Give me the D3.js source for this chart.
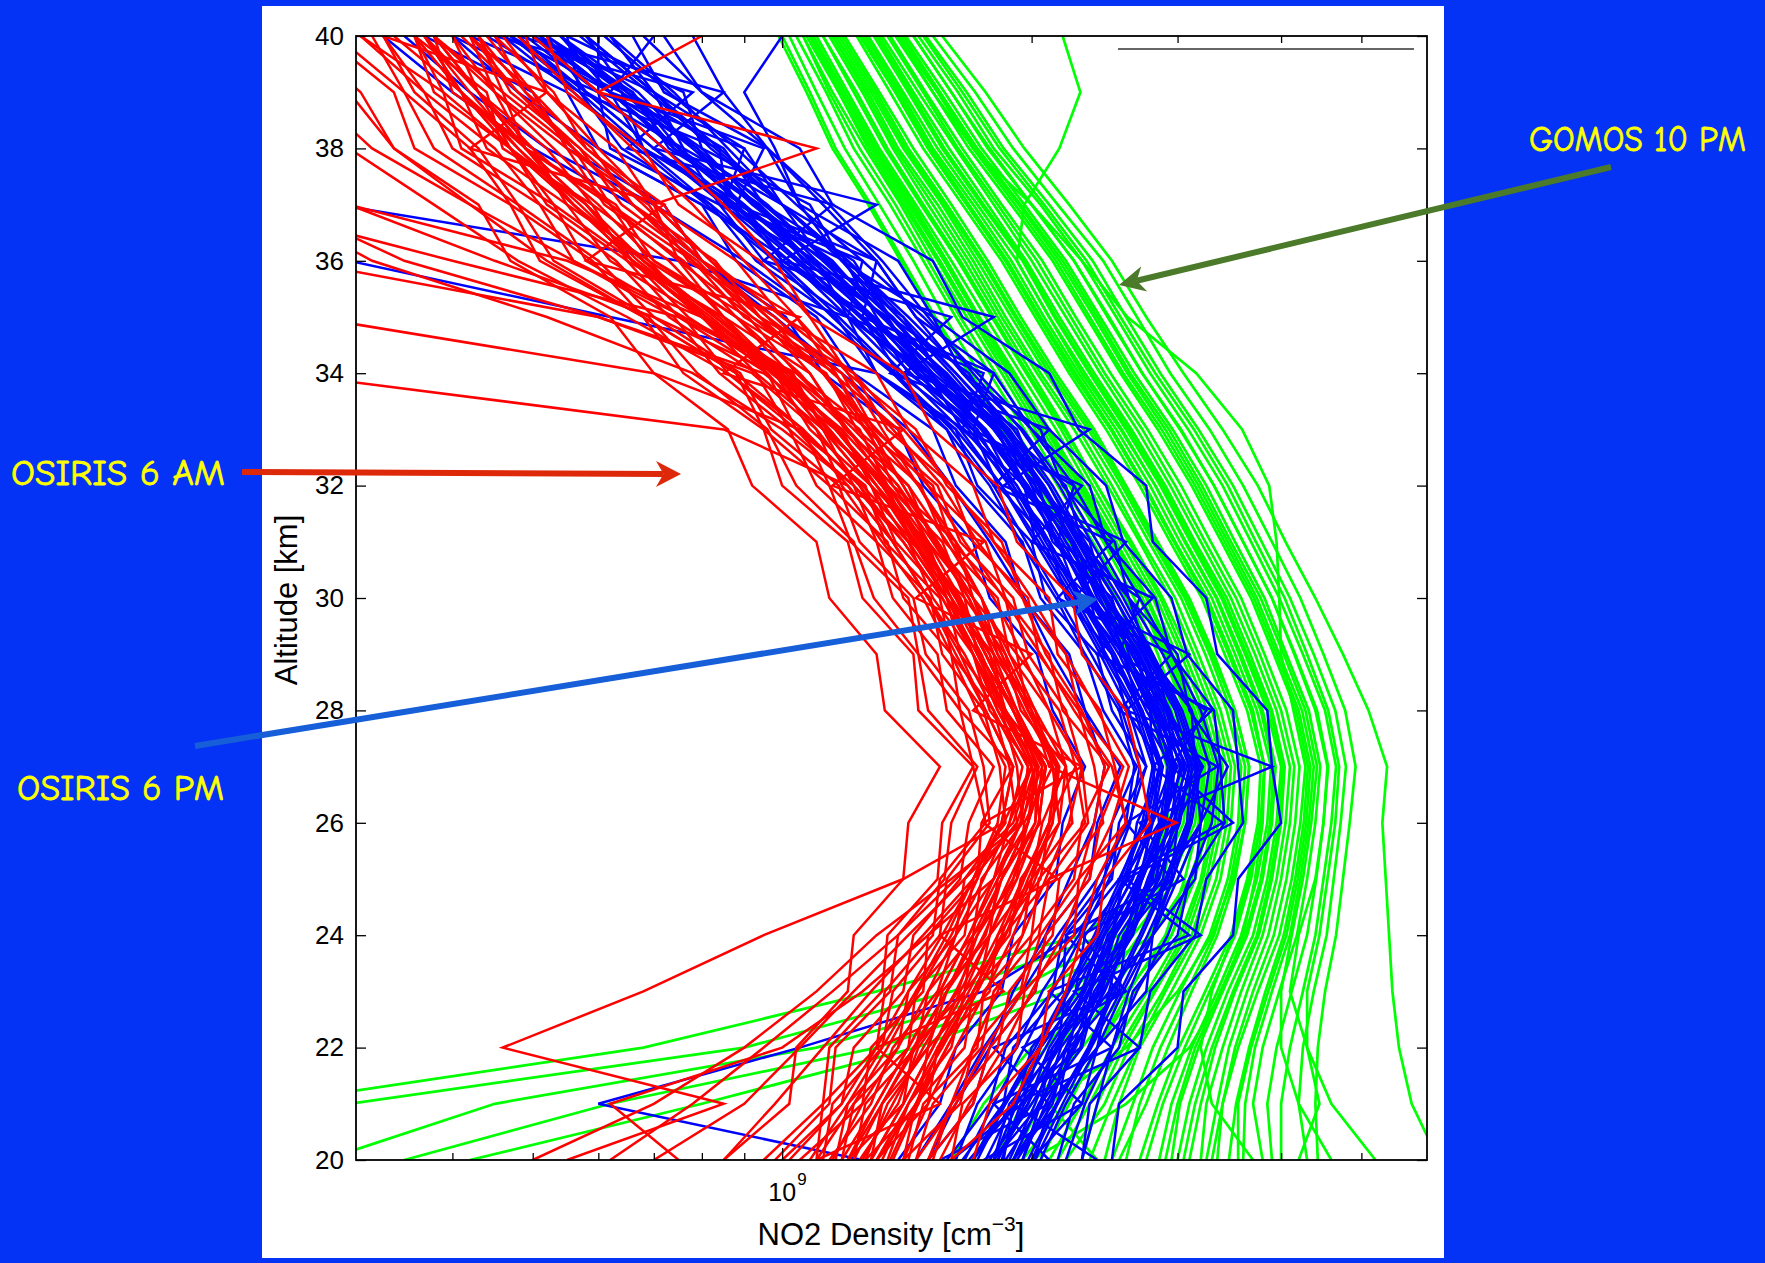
<!DOCTYPE html>
<html><head><meta charset="utf-8">
<script src="https://cdn.jsdelivr.net/npm/d3@7"></script>
<style>html,body{margin:0;padding:0;background:#0433f5;overflow:hidden}</style>
</head><body><svg id="c" width="1765" height="1263"></svg>
<script>
// Altitude levels (km) for every profile
const altitudes = [20,21,22,23,24,25,26,27,28,29,30,31,32,33,34,35,36,37,38,39,40];
// NO2 density profiles, units of 1e9 cm^-3, altitude 20 -> 40 km
const gomos10pm = [
[1.70,1.85,2.08,2.35,2.62,2.80,2.92,2.93,2.80,2.62,2.46,2.24,2.04,1.86,1.69,1.53,1.40,1.28,1.16,1.08,1.00],
[1.90,2.05,2.25,2.50,2.78,2.95,3.08,3.10,2.95,2.78,2.60,2.37,2.15,1.96,1.78,1.62,1.48,1.35,1.22,1.13,1.04],
[2.10,2.30,2.50,2.76,3.02,3.20,3.30,3.33,3.18,2.99,2.80,2.56,2.34,2.14,1.94,1.76,1.60,1.45,1.31,1.20,1.10],
[2.45,2.55,2.70,2.95,3.20,3.38,3.48,3.52,3.38,3.18,2.98,2.72,2.50,2.28,2.05,1.86,1.70,1.54,1.38,1.27,1.15],
[2.70,2.84,3.01,3.24,3.48,3.64,3.75,3.78,3.64,3.42,3.21,2.94,2.70,2.46,2.22,2.02,1.84,1.65,1.48,1.35,1.23],
[3.00,3.10,3.25,3.45,3.70,3.85,3.95,4.00,3.85,3.62,3.39,3.11,2.86,2.60,2.35,2.13,1.95,1.74,1.56,1.42,1.29],
[3.46,3.53,3.66,3.83,4.03,4.16,4.26,4.31,4.17,3.92,3.68,3.39,3.12,2.84,2.56,2.33,2.12,1.89,1.68,1.52,1.37],
[4.00,4.00,4.10,4.25,4.40,4.50,4.60,4.66,4.52,4.25,3.98,3.68,3.40,3.09,2.78,2.53,2.30,2.05,1.80,1.63,1.46],
[4.43,4.40,4.43,4.52,4.66,4.75,4.84,4.92,4.78,4.50,4.22,3.90,3.60,3.28,2.94,2.68,2.44,2.15,1.90,1.71,1.52],
[2.20,2.45,2.62,2.88,3.12,3.28,3.40,3.44,3.30,3.10,2.88,2.64,2.40,2.20,2.00,1.82,1.66,1.50,1.36,1.25,1.14],
[3.20,3.25,3.40,3.58,3.80,3.95,4.05,4.10,3.95,3.72,3.48,3.20,2.94,2.68,2.42,2.20,2.00,1.80,1.62,1.46,1.32],
[2.55,2.75,2.92,3.12,3.35,3.52,3.62,3.66,3.52,3.32,3.10,2.84,2.60,2.38,2.14,1.94,1.77,1.60,1.44,1.31,1.19],
[3.80,3.70,3.80,3.98,4.18,4.30,4.40,4.46,4.32,4.06,3.82,3.52,3.25,2.96,2.66,2.42,2.20,1.96,1.74,1.57,1.41],
[1.95,2.20,2.40,2.62,2.90,3.06,3.18,3.22,3.06,2.88,2.70,2.46,2.24,2.04,1.86,1.69,1.54,1.40,1.27,1.17,1.07],
[2.85,2.95,3.12,3.35,3.58,3.74,3.85,3.89,3.74,3.52,3.30,3.02,2.78,2.53,2.28,2.07,1.89,1.70,1.52,1.39,1.26],
[3.60,3.62,3.72,3.90,4.10,4.22,4.32,4.38,4.24,3.98,3.74,3.45,3.18,2.90,2.61,2.38,2.16,1.93,1.71,1.55,1.39],
[2.35,2.50,2.68,2.90,3.16,3.34,3.44,3.48,3.34,3.14,2.94,2.70,2.47,2.25,2.03,1.84,1.68,1.52,1.37,1.26,1.15],
[3.10,3.20,3.33,3.52,3.76,3.90,4.00,4.04,3.90,3.67,3.44,3.15,2.90,2.64,2.38,2.16,1.97,1.77,1.59,1.44,1.31],
[0.25,0.24,0.68,1.30,2.30,2.85,3.05,3.10,2.98,2.80,2.62,2.40,2.18,1.99,1.81,1.64,1.50,1.37,1.24,1.14,1.06],
[0.28,0.45,1.10,1.90,2.55,2.95,3.15,3.20,3.08,2.90,2.70,2.48,2.26,2.06,1.88,1.70,1.55,1.41,1.28,1.17,1.08],
[0.42,0.80,1.45,2.20,2.80,3.10,3.28,3.30,3.15,2.96,2.76,2.53,2.31,2.10,1.91,1.73,1.58,1.44,1.30,1.19,1.09],
[0.22,0.30,0.90,1.60,2.45,2.90,3.08,3.14,3.00,2.84,2.66,2.44,2.22,2.02,1.84,1.67,1.52,1.39,1.26,1.15,1.06],
[6.20,5.75,5.55,5.45,5.40,5.35,5.30,5.37,5.10,4.75,4.40,4.05,3.75,3.40,3.05,2.75,2.50,2.22,1.96,1.76,1.56],
[2.90,3.00,3.15,3.38,3.62,3.78,3.88,3.92,3.78,3.56,3.34,3.06,2.82,2.56,2.30,2.10,1.92,1.96,2.16,2.29,2.18],
[3.30,3.40,3.55,3.75,3.98,4.12,4.22,4.28,4.14,4.00,3.98,3.95,3.87,3.59,3.16,2.61,2.30,2.00,1.70,1.52,1.38],
[4.20,4.45,4.30,4.10,4.20,4.40,4.50,4.55,4.40,4.15,3.90,3.60,3.32,3.02,2.72,2.47,2.25,2.00,1.78,1.60,1.44],
[2.00,2.60,3.10,3.40,3.60,3.72,3.80,3.82,3.70,3.48,3.26,2.98,2.74,2.50,2.25,2.04,1.86,1.67,1.50,1.37,1.25],
[3.70,3.30,3.20,3.30,3.50,3.66,3.78,3.82,3.68,3.46,3.25,2.98,2.74,2.50,2.26,2.05,1.87,1.68,1.51,1.38,1.26],
[1.80,2.00,2.30,2.60,2.95,3.15,3.26,3.28,3.14,2.95,2.76,2.52,2.30,2.10,1.90,1.72,1.57,1.43,1.30,1.19,1.09],
[4.60,4.20,4.00,4.00,4.12,4.25,4.35,4.42,4.28,4.03,3.78,3.48,3.21,2.93,2.63,2.40,2.18,1.94,1.72,1.55,1.40],
[2.30,2.40,2.58,2.82,3.08,3.25,3.36,3.40,3.26,3.06,2.86,2.62,2.40,2.19,1.98,1.80,1.64,1.48,1.34,1.23,1.12],
[2.60,2.70,2.86,3.08,3.32,3.48,3.58,3.62,3.48,3.28,3.06,2.80,2.57,2.34,2.10,1.91,1.74,1.57,1.41,1.29,1.17],
[2.95,3.02,3.18,3.40,3.64,3.80,3.90,3.94,3.80,3.58,3.35,3.07,2.82,2.57,2.32,2.10,1.92,1.72,1.54,1.40,1.27],
[3.35,3.40,3.52,3.70,3.92,4.06,4.16,4.21,4.06,3.82,3.58,3.29,3.03,2.76,2.49,2.26,2.06,1.84,1.65,1.49,1.35],
[3.90,3.85,3.95,4.12,4.30,4.41,4.50,4.56,4.42,4.16,3.90,3.60,3.32,3.03,2.72,2.48,2.25,2.00,1.77,1.60,1.44],
[4.30,4.20,4.25,4.38,4.54,4.63,4.72,4.79,4.65,4.38,4.10,3.79,3.50,3.18,2.86,2.60,2.37,2.10,1.85,1.67,1.49],
[1.80,1.95,2.16,2.42,2.70,2.88,3.00,3.02,2.88,2.70,2.53,2.30,2.10,1.91,1.73,1.57,1.44,1.31,1.19,1.10,1.02],
[2.05,2.22,2.40,2.66,2.95,3.12,3.24,3.27,3.12,2.94,2.75,2.51,2.29,2.09,1.90,1.72,1.57,1.42,1.29,1.18,1.08],
[3.05,3.15,3.30,3.50,3.74,3.88,3.98,4.02,3.88,3.64,3.41,3.13,2.88,2.62,2.36,2.14,1.96,1.75,1.57,1.43,1.30],
[2.50,2.65,2.80,3.02,3.28,3.45,3.55,3.58,3.44,3.24,3.03,2.77,2.54,2.31,2.08,1.89,1.72,1.56,1.40,1.28,1.16],
[3.55,3.55,3.68,3.86,4.06,4.19,4.29,4.34,4.20,3.95,3.71,3.42,3.15,2.87,2.58,2.35,2.14,1.91,1.70,1.54,1.38],
[2.75,2.88,3.06,3.28,3.52,3.68,3.78,3.82,3.68,3.46,3.24,2.97,2.73,2.49,2.24,2.04,1.86,1.67,1.50,1.37,1.24],
[1.60,1.75,2.00,2.28,2.58,2.78,2.90,2.91,2.78,2.60,2.44,2.22,2.02,1.84,1.68,1.52,1.39,1.27,1.15,1.07,0.99],
[3.25,3.35,3.46,3.64,3.86,4.00,4.10,4.15,4.00,3.77,3.53,3.24,2.98,2.72,2.45,2.23,2.03,1.82,1.63,1.48,1.34],
[2.15,2.35,2.55,2.80,3.05,3.22,3.33,3.37,3.22,3.03,2.83,2.59,2.37,2.17,1.97,1.79,1.63,1.47,1.33,1.22,1.12],
[5.20,4.60,4.30,4.30,4.45,4.55,4.65,4.70,4.56,4.30,4.04,3.73,3.45,3.14,2.82,2.56,2.33,2.07,1.83,1.65,1.48],
[0.35,0.62,1.30,2.05,2.65,3.00,3.20,3.24,3.10,2.92,2.72,2.50,2.28,2.08,1.89,1.72,1.57,1.43,1.29,1.18,1.09],
[2.40,2.10,2.60,3.00,3.30,3.50,3.62,3.66,3.52,3.30,3.08,2.82,2.59,2.36,2.12,1.92,1.75,1.58,1.42,1.30,1.18]
];
const osiris6pm = [
[1.85,1.90,2.29,2.36,2.47,2.83,2.92,3.18,2.79,2.62,2.50,2.12,2.00,1.87,1.46,1.30,1.19,0.86,0.84,0.57,0.55],
[1.65,1.85,1.90,2.18,2.20,2.50,2.55,2.75,2.50,2.40,2.08,2.00,1.72,1.62,1.30,1.20,0.95,0.84,0.62,0.60,0.42],
[2.00,2.30,2.40,2.75,2.80,3.15,3.20,3.45,3.10,3.00,2.62,2.52,2.18,2.05,1.65,1.52,1.18,1.08,0.80,0.76,0.55],
[1.80,1.88,2.15,2.20,2.50,2.58,2.85,2.80,2.78,2.45,2.35,2.02,1.96,1.65,1.50,1.20,1.10,0.84,0.76,0.58,0.52],
[1.90,2.15,2.22,2.55,2.60,2.95,3.00,3.22,2.92,2.80,2.45,2.35,2.04,1.92,1.55,1.40,1.12,1.00,0.76,0.70,0.50],
[1.50,1.70,1.78,2.02,2.08,2.35,2.40,2.56,2.32,2.22,1.95,1.86,1.62,1.52,1.22,1.10,0.88,0.80,0.60,0.55,0.40],
[2.30,2.35,2.70,2.78,3.15,3.25,3.60,3.55,3.50,3.08,2.95,2.58,2.46,2.10,1.88,1.52,1.38,1.05,0.96,0.72,0.66],
[1.68,1.92,2.00,2.26,2.32,2.62,2.68,2.88,2.60,2.50,2.20,2.10,1.82,1.70,1.38,1.25,1.00,0.88,0.68,0.62,0.47],
[2.02,2.10,2.40,2.48,2.80,2.90,3.20,3.15,3.12,2.76,2.62,2.30,2.20,1.86,1.68,1.35,1.22,0.95,0.85,0.65,0.58],
[1.80,2.05,2.12,2.42,2.50,2.80,2.86,3.05,2.80,2.68,2.35,2.24,1.95,1.82,1.48,1.34,1.06,0.94,0.73,0.66,0.50],
[1.38,1.55,1.62,1.84,1.90,2.14,2.18,2.32,2.12,2.03,1.78,1.70,1.48,1.38,1.12,1.01,0.80,0.72,0.55,0.50,0.37],
[2.50,2.55,3.00,3.05,3.50,3.55,4.00,3.90,3.85,3.35,3.25,2.80,2.75,2.28,2.10,1.65,1.52,1.15,1.05,0.80,0.72],
[1.75,2.30,1.95,2.60,2.30,3.05,2.70,3.90,2.60,3.10,2.25,2.60,1.85,2.35,1.40,1.80,1.00,1.30,0.70,0.85,0.48],
[2.10,1.80,2.50,2.10,3.10,2.55,3.40,2.80,3.30,2.40,2.80,2.00,2.30,1.65,1.75,1.20,1.25,0.85,0.90,0.60,0.60],
[1.60,1.95,2.05,2.30,2.45,2.70,2.80,3.00,2.75,2.55,2.30,2.10,1.90,1.75,1.42,1.28,1.00,0.90,0.68,0.64,0.46],
[1.95,2.05,2.30,2.40,2.65,2.78,3.00,3.10,2.92,2.70,2.45,2.25,2.05,1.82,1.58,1.32,1.15,0.93,0.80,0.64,0.54],
[1.58,1.78,1.86,2.12,2.18,2.45,2.50,2.68,2.44,2.32,2.05,1.95,1.70,1.58,1.30,1.16,0.93,0.82,0.64,0.57,0.44],
[2.15,2.25,2.55,2.65,3.00,3.10,3.42,3.38,3.32,2.95,2.82,2.46,2.35,2.00,1.80,1.45,1.30,1.00,0.90,0.70,0.62],
[1.86,2.06,2.17,2.43,2.55,2.82,2.93,3.08,2.85,2.70,2.40,2.25,2.00,1.83,1.52,1.33,1.10,0.94,0.75,0.66,0.52],
[1.82,1.96,2.16,2.31,2.52,2.70,2.88,2.94,2.82,2.57,2.38,2.14,1.98,1.74,1.50,1.27,1.09,0.89,0.75,0.62,0.51],
[1.50,1.62,1.78,1.90,2.08,2.22,2.38,2.45,2.32,2.12,1.96,1.78,1.60,1.42,1.18,0.98,0.80,0.66,0.50,0.40,0.33],
[2.00,2.15,2.35,2.52,2.72,2.92,3.10,3.18,3.02,2.78,2.55,2.32,2.12,1.90,1.65,1.45,1.30,1.12,0.96,0.85,0.78],
[1.70,1.90,2.05,2.30,2.42,2.65,2.78,2.95,2.70,2.58,2.28,2.15,1.88,1.72,1.45,1.25,1.02,0.80,0.60,0.48,0.40],
[1.90,2.10,2.25,2.45,2.62,2.85,2.98,3.06,2.90,2.68,2.46,2.24,2.06,1.83,1.60,1.38,1.18,1.00,0.86,0.74,0.62],
[1.25,0.60,1.05,1.75,2.25,2.55,2.75,2.85,2.70,2.50,2.30,2.10,1.92,1.70,1.46,1.25,1.05,0.88,0.72,0.60,0.50],
[1.80,2.00,2.20,2.35,2.60,2.72,2.90,2.98,2.86,2.60,2.42,2.20,2.02,1.80,1.56,1.35,1.18,1.05,0.98,0.90,1.00],
[1.88,2.02,2.14,2.40,2.52,2.78,2.88,3.04,2.82,2.66,2.37,2.23,1.97,1.81,1.50,1.33,1.08,0.93,0.74,0.65,0.51],
[1.78,1.98,2.10,2.32,2.48,2.68,2.86,2.92,2.78,2.58,2.34,2.16,1.95,1.76,1.48,1.28,1.07,0.90,0.74,0.62,0.50],
[1.95,2.08,2.26,2.44,2.64,2.84,3.02,3.10,2.94,2.72,2.48,2.27,2.07,1.85,1.57,1.35,1.14,0.95,0.79,0.65,0.54],
[1.72,1.86,2.04,2.20,2.40,2.58,2.74,2.82,2.68,2.46,2.26,2.06,1.88,1.68,1.43,1.22,1.04,0.86,0.72,0.60,0.49],
[2.05,2.20,2.40,2.58,2.80,3.00,3.20,3.28,3.12,2.88,2.62,2.40,2.19,1.95,1.66,1.42,1.20,1.00,0.83,0.69,0.57],
[1.66,1.80,1.96,2.12,2.30,2.48,2.63,2.70,2.57,2.36,2.16,1.97,1.80,1.60,1.37,1.17,0.99,0.82,0.68,0.57,0.47],
[1.92,2.12,2.20,2.48,2.58,2.88,2.96,3.14,2.90,2.74,2.44,2.29,2.04,1.86,1.56,1.36,1.13,0.96,0.78,0.67,0.54],
[1.84,1.94,2.22,2.30,2.60,2.70,2.98,2.96,2.92,2.58,2.45,2.14,2.04,1.74,1.56,1.27,1.13,0.89,0.79,0.62,0.54],
[2.20,2.32,2.50,2.68,2.92,3.10,3.30,3.36,3.20,2.95,2.70,2.46,2.25,2.00,1.72,1.48,1.25,1.04,0.88,0.73,0.61],
[1.62,1.72,1.92,2.06,2.28,2.44,2.60,2.66,2.55,2.32,2.14,1.94,1.78,1.58,1.36,1.15,0.98,0.81,0.67,0.56,0.46],
[2.40,1.90,2.70,2.25,3.20,2.60,3.50,2.95,3.25,2.55,2.70,2.15,2.25,1.70,1.80,1.25,1.30,0.88,0.95,0.62,0.70],
[1.55,2.10,1.80,2.55,2.20,2.95,2.60,3.35,2.55,2.95,2.15,2.50,1.80,2.10,1.35,1.60,0.95,1.15,0.65,0.78,0.45],
[1.98,2.14,2.34,2.50,2.70,2.90,3.08,3.12,2.98,2.74,2.52,2.28,2.10,1.86,1.62,1.38,1.20,1.00,0.82,0.70,0.58],
[1.76,1.90,2.08,2.26,2.44,2.64,2.80,2.88,2.72,2.52,2.30,2.10,1.92,1.70,1.46,1.24,1.05,0.87,0.70,0.58,0.47],
[1.70,1.85,2.02,2.20,2.38,2.56,2.72,2.80,2.66,2.44,2.24,2.04,1.84,1.62,1.36,1.12,0.90,0.70,0.52,0.42,0.35],
[2.02,2.18,2.36,2.56,2.76,2.96,3.12,3.20,3.04,2.80,2.58,2.36,2.16,1.94,1.70,1.50,1.32,1.14,0.96,0.80,0.68],
[1.90,2.04,2.24,2.38,2.62,2.76,2.94,3.02,2.88,2.64,2.44,2.20,2.02,1.80,1.54,1.32,1.12,0.92,0.78,0.64,0.52],
[1.80,1.92,2.12,2.34,2.50,2.72,2.90,2.98,2.84,2.60,2.38,2.18,1.98,1.76,1.51,1.29,1.09,0.90,0.75,0.62,0.51],
[2.30,2.40,2.50,2.62,2.80,2.96,3.10,3.16,3.00,2.76,2.52,2.30,2.10,1.88,1.62,1.40,1.20,1.00,0.84,0.70,0.58],
[1.45,1.60,1.75,1.95,2.15,2.40,2.62,2.75,2.62,2.42,2.22,2.02,1.84,1.64,1.40,1.20,1.02,0.85,0.70,0.58,0.48],
[1.82,1.98,2.14,2.34,2.52,2.72,2.88,2.96,2.80,2.58,2.36,2.16,1.96,1.74,1.48,1.20,0.75,0.29,0.22,0.20,0.20],
[1.70,1.86,2.04,2.22,2.42,2.60,2.78,2.86,2.72,2.50,2.28,2.08,1.90,1.66,1.30,0.62,0.30,0.24,0.21,0.20,0.20]
];
const osiris6am = [
[1.20,1.40,1.44,1.66,1.70,1.92,1.96,2.12,1.85,1.80,1.58,1.50,1.28,1.18,0.97,0.85,0.65,0.59,0.46,0.44,0.36],
[1.05,1.25,1.28,1.48,1.50,1.72,1.74,1.90,1.64,1.60,1.40,1.34,1.14,1.06,0.86,0.76,0.58,0.53,0.41,0.39,0.31],
[1.42,1.48,1.72,1.75,2.00,2.04,2.32,2.26,2.16,1.92,1.86,1.60,1.52,1.26,1.16,0.90,0.78,0.62,0.56,0.46,0.43],
[0.95,1.12,1.14,1.32,1.34,1.54,1.56,1.70,1.46,1.44,1.25,1.20,1.00,0.95,0.76,0.68,0.51,0.47,0.36,0.34,0.28],
[1.60,1.65,1.92,1.96,2.25,2.28,2.60,2.52,2.42,2.15,2.10,1.80,1.70,1.42,1.30,1.00,0.88,0.70,0.63,0.52,0.49],
[1.18,1.22,1.42,1.45,1.66,1.70,1.92,1.88,1.80,1.60,1.55,1.33,1.26,1.04,0.96,0.75,0.65,0.52,0.47,0.38,0.36],
[1.30,1.50,1.54,1.78,1.82,2.05,2.10,2.26,1.98,1.92,1.70,1.62,1.36,1.27,1.04,0.91,0.70,0.63,0.49,0.46,0.38],
[1.10,1.12,1.30,1.33,1.52,1.55,1.76,1.70,1.64,1.46,1.42,1.21,1.14,0.95,0.88,0.68,0.59,0.47,0.42,0.35,0.32],
[1.40,1.64,1.70,1.94,2.00,2.25,2.30,2.48,2.18,2.10,1.86,1.76,1.50,1.38,1.15,0.98,0.77,0.69,0.55,0.50,0.42],
[1.28,1.32,1.50,1.56,1.78,1.82,2.05,2.00,1.92,1.72,1.66,1.43,1.34,1.12,1.03,0.80,0.69,0.55,0.50,0.40,0.38],
[0.85,1.02,1.04,1.20,1.22,1.40,1.42,1.55,1.33,1.30,1.14,1.10,0.92,0.86,0.70,0.62,0.47,0.43,0.34,0.31,0.26],
[1.70,1.78,2.05,2.10,2.40,2.45,2.78,2.70,2.60,2.30,2.24,1.92,1.82,1.52,1.40,1.08,0.94,0.75,0.68,0.55,0.52],
[1.30,1.45,1.55,1.70,1.85,2.10,2.99,2.10,2.00,1.80,1.70,1.50,1.38,1.20,1.05,0.88,0.70,0.60,0.50,0.43,0.38],
[1.15,1.25,1.38,1.50,1.62,1.75,1.88,1.95,1.80,1.66,1.50,1.36,1.20,0.85,0.25,0.20,0.20,0.20,0.20,0.20,0.20],
[1.22,1.32,1.45,1.58,1.70,1.84,1.98,2.02,1.86,1.72,1.58,1.44,1.25,1.05,0.70,0.27,0.22,0.20,0.20,0.20,0.20],
[1.08,1.20,1.32,1.45,1.58,1.70,1.82,1.86,1.72,1.60,1.48,1.32,1.18,1.10,0.92,0.60,0.26,0.22,0.20,0.20,0.20],
[1.35,1.45,1.58,1.72,1.86,2.00,2.12,2.15,1.98,1.84,1.70,1.54,1.38,1.20,1.02,0.75,0.40,0.22,0.20,0.20,0.20],
[1.00,1.18,1.30,1.42,1.56,1.70,1.84,1.90,1.76,1.62,1.50,1.36,1.24,1.10,0.96,0.80,0.55,0.30,0.25,0.22,0.20],
[0.55,0.85,0.46,0.68,0.95,1.40,1.85,2.00,1.85,1.72,1.58,1.42,1.28,1.12,0.98,0.80,0.66,0.56,0.47,0.41,0.36],
[0.50,0.70,0.90,1.10,1.30,1.60,1.95,2.02,1.86,1.70,1.60,1.44,1.30,1.14,0.99,0.81,0.66,0.56,0.48,0.41,0.37],
[0.75,0.62,1.00,1.25,1.50,1.80,1.98,2.08,1.90,1.76,1.62,1.48,1.32,1.16,1.01,0.83,0.68,0.58,0.49,0.43,0.38],
[1.60,1.90,2.05,2.20,2.30,2.40,2.60,2.50,2.25,2.05,1.85,1.66,1.50,1.30,1.12,0.92,0.75,0.62,0.53,0.45,0.40],
[1.22,1.26,1.45,1.50,1.70,1.74,1.95,1.92,1.84,1.64,1.58,1.37,1.28,1.08,0.98,0.77,0.66,0.53,0.47,0.39,0.36],
[1.26,1.46,1.50,1.72,1.78,2.00,2.06,2.20,1.94,1.86,1.66,1.56,1.34,1.24,1.02,0.88,0.69,0.62,0.49,0.45,0.38],
[1.16,1.20,1.38,1.42,1.62,1.66,1.86,1.83,1.75,1.56,1.51,1.30,1.22,1.02,0.93,0.73,0.63,0.51,0.45,0.37,0.33],
[1.40,1.45,1.66,1.70,1.95,2.00,2.24,2.20,2.10,1.88,1.82,1.57,1.47,1.23,1.13,0.88,0.76,0.61,0.55,0.45,0.42],
[0.98,1.14,1.16,1.35,1.38,1.57,1.60,1.72,1.50,1.46,1.29,1.22,1.04,0.96,0.79,0.69,0.53,0.48,0.38,0.35,0.29],
[1.50,1.70,1.78,2.02,2.08,2.35,2.42,2.58,2.28,2.20,1.95,1.84,1.58,1.45,1.20,1.04,0.80,0.72,0.58,0.53,0.45],
[1.24,1.38,1.46,1.63,1.72,1.90,1.98,2.08,1.86,1.78,1.60,1.49,1.30,1.17,0.99,0.84,0.66,0.58,0.47,0.43,0.37],
[1.12,1.15,1.32,1.36,1.55,1.58,1.78,1.75,1.68,1.49,1.44,1.24,1.17,0.97,0.89,0.70,0.60,0.48,0.43,0.36,0.33],
[1.45,1.52,1.74,1.80,2.04,2.10,2.34,2.30,2.20,1.98,1.90,1.64,1.54,1.29,1.18,0.92,0.79,0.64,0.57,0.47,0.43],
[1.20,1.30,1.42,1.55,1.68,1.80,1.94,1.98,1.82,1.70,1.56,1.40,1.24,1.06,0.88,0.68,0.52,0.42,0.34,0.30,0.27],
[1.30,1.42,1.54,1.68,1.82,1.95,2.10,2.15,1.98,1.84,1.70,1.54,1.40,1.26,1.12,0.96,0.82,0.70,0.60,0.52,0.46],
[1.10,1.55,1.30,1.85,1.55,2.15,1.75,2.30,1.70,2.00,1.45,1.75,1.15,1.40,0.85,1.05,0.58,0.72,0.42,0.52,0.33],
[1.25,1.36,1.48,1.62,1.75,1.88,2.02,2.06,1.90,1.76,1.63,1.47,1.32,1.16,1.00,0.85,0.75,0.70,1.10,0.60,0.80],
[1.26,1.34,1.50,1.58,1.76,1.84,2.02,2.03,1.90,1.73,1.64,1.44,1.33,1.13,1.02,0.81,0.68,0.56,0.49,0.41,0.37],
[1.14,1.28,1.36,1.54,1.62,1.80,1.88,2.00,1.78,1.70,1.52,1.42,1.22,1.12,0.93,0.80,0.62,0.55,0.44,0.41,0.34],
[1.34,1.42,1.60,1.66,1.88,1.94,2.16,2.12,2.02,1.82,1.74,1.52,1.42,1.19,1.08,0.85,0.73,0.59,0.52,0.43,0.40],
[1.02,1.18,1.22,1.40,1.44,1.64,1.68,1.80,1.58,1.54,1.36,1.30,1.10,1.02,0.84,0.74,0.56,0.51,0.40,0.37,0.31],
[1.52,1.60,1.82,1.88,2.12,2.16,2.44,2.38,2.28,2.04,1.98,1.70,1.60,1.34,1.22,0.94,0.83,0.66,0.59,0.49,0.45],
[1.28,1.40,1.52,1.66,1.78,1.92,2.04,2.08,1.92,1.78,1.64,1.50,1.34,1.16,0.95,0.60,0.35,0.25,0.22,0.20,0.20],
[1.18,1.30,1.42,1.55,1.68,1.82,1.94,1.98,1.82,1.70,1.56,1.40,1.22,1.00,0.78,0.52,0.32,0.24,0.21,0.20,0.20],
[1.32,1.42,1.56,1.70,1.84,1.96,2.10,2.14,1.96,1.82,1.68,1.52,1.36,1.18,0.98,0.70,0.45,0.30,0.24,0.21,0.20],
[1.10,1.22,1.34,1.46,1.60,1.72,1.84,1.90,1.76,1.64,1.50,1.36,1.20,1.04,0.86,0.65,0.48,0.38,0.30,0.25,0.22],
[1.40,1.50,1.62,1.76,1.90,2.02,2.16,2.20,2.02,1.88,1.74,1.58,1.42,1.22,1.04,0.76,0.56,0.42,0.32,0.27,0.24],
[1.28,1.40,1.52,1.64,1.78,1.90,2.04,2.08,1.92,1.80,1.68,1.53,1.40,1.28,1.16,1.04,0.90,0.78,0.66,0.56,0.48],
[1.36,1.46,1.58,1.72,1.86,1.98,2.12,2.16,2.00,1.86,1.74,1.60,1.46,1.32,1.20,1.08,0.98,0.85,0.72,0.60,0.50],
[1.20,1.32,1.44,1.58,1.72,1.84,1.98,2.04,1.90,1.76,1.62,1.48,1.34,1.20,1.08,0.94,0.80,0.68,0.57,0.48,0.41],
[0.62,0.78,0.95,1.15,1.38,1.62,1.90,2.00,1.84,1.70,1.58,1.42,1.28,1.12,0.98,0.80,0.66,0.56,0.47,0.41,0.36],
[0.85,0.98,1.12,1.28,1.48,1.70,1.92,2.02,1.86,1.74,1.60,1.45,1.30,1.14,0.99,0.82,0.67,0.57,0.48,0.42,0.37],
[1.55,1.68,1.85,2.00,2.18,2.32,2.50,2.62,2.40,2.20,2.00,1.80,1.60,1.40,1.22,1.00,0.82,0.70,0.58,0.50,0.44],
[1.45,1.62,1.76,1.95,2.05,2.28,2.38,2.45,2.30,2.08,1.95,1.72,1.56,1.36,1.18,0.96,0.80,0.66,0.56,0.48,0.42],
[0.70,0.90,1.05,1.22,1.42,1.66,1.94,2.06,1.90,1.76,1.62,1.46,1.32,1.16,1.00,0.83,0.68,0.58,0.49,0.43,0.38],
[1.50,1.60,1.70,1.82,1.95,2.08,2.22,2.30,2.10,1.95,1.80,1.62,1.46,1.28,1.12,0.94,0.78,0.66,0.56,0.49,0.43]
];
const yTickValues = [20,22,24,26,28,30,32,34,36,38,40];
const xMinorTicks = [0.4,0.5,0.6,0.7,0.8,0.9,2,3,4,5];
const xMajorTicks = [1];
const xMajorLabels = [{base:"10", exp:"9"}];
const xTitle = {main:"NO2 Density [cm", sup:"\u22123", end:"]"};
const yTitle = "Altitude [km]";
const notes = ["OSIRIS 6 AM","OSIRIS 6 PM","GOMOS 10 PM"];

const svg = d3.select("#c");
const W = 1765, H = 1263;
const L = 356, R = 1427, T = 36, B = 1160;
const font = "'Liberation Sans', Arial, Helvetica, sans-serif";

svg.append("rect").attr("width",W).attr("height",H).attr("fill","#0433f5");
svg.append("rect").attr("x",262).attr("y",6).attr("width",1182).attr("height",1252).attr("fill","#ffffff");

const x = d3.scaleLog().domain([0.306, 6.0]).range([L, R]);
const y = d3.scaleLinear().domain([20, 40]).range([B, T]);

svg.append("clipPath").attr("id","pc").append("rect")
  .attr("x",L).attr("y",T).attr("width",R-L).attr("height",B-T);

const line = d3.line().x(d => x(d[0])).y(d => y(d[1]));
const plot = svg.append("g").attr("clip-path","url(#pc)");

function drawGroup(data, color, w){
  plot.append("g").selectAll("path").data(data).join("path")
    .attr("d", p => line(p.map((v,i) => [v, altitudes[i]])))
    .attr("fill","none").attr("stroke",color).attr("stroke-width",w)
    .attr("stroke-linejoin","miter");
}
drawGroup(gomos10pm, "#00ff00", 2.7);
drawGroup(osiris6pm, "#0000ff", 2.5);
drawGroup(osiris6am, "#ff0000", 2.5);

// legend remnant line
svg.append("line").attr("x1",1118).attr("x2",1414).attr("y1",49).attr("y2",49)
  .attr("stroke","#333").attr("stroke-width",1.4);

// Axes (inward ticks, MATLAB style)
const ax = svg.append("g").attr("font-family",font);
const yl = ax.append("g").attr("transform",`translate(${L},0)`)
  .call(d3.axisLeft(y).tickValues(yTickValues).tickSizeInner(-10).tickSizeOuter(0).tickPadding(12));
yl.selectAll("text").attr("font-size",26).attr("fill","#000").attr("font-family",font);
ax.append("g").attr("transform",`translate(${R},0)`)
  .call(d3.axisRight(y).tickValues(yTickValues).tickSizeInner(-10).tickSizeOuter(0).tickFormat(""));
ax.append("g").attr("transform",`translate(0,${B})`)
  .call(d3.axisBottom(x).tickValues(xMinorTicks).tickSizeInner(-7).tickSizeOuter(0).tickFormat(""));
ax.append("g").attr("transform",`translate(0,${B})`)
  .call(d3.axisBottom(x).tickValues(xMajorTicks).tickSizeInner(-12).tickSizeOuter(0).tickFormat(""));
ax.append("g").attr("transform",`translate(0,${T})`)
  .call(d3.axisTop(x).tickValues(xMinorTicks).tickSizeInner(-7).tickSizeOuter(0).tickFormat(""));
ax.append("g").attr("transform",`translate(0,${T})`)
  .call(d3.axisTop(x).tickValues(xMajorTicks).tickSizeInner(-12).tickSizeOuter(0).tickFormat(""));
ax.selectAll(".domain").remove();
ax.selectAll(".tick line").attr("stroke","#000").attr("stroke-width",1.3);

svg.append("rect").attr("x",L).attr("y",T).attr("width",R-L).attr("height",B-T)
  .attr("fill","none").attr("stroke","#000").attr("stroke-width",1.8);

// 10^9 label
xMajorTicks.forEach((t,i) => {
  svg.append("text").attr("x", x(t)+14).attr("y",1201).attr("text-anchor","end")
    .attr("font-family",font).attr("font-size",25).text(xMajorLabels[i].base);
  svg.append("text").attr("x", x(t)+15).attr("y",1185)
    .attr("font-family",font).attr("font-size",17).text(xMajorLabels[i].exp);
});

// axis titles
const xtit = svg.append("text").attr("x",891).attr("y",1245).attr("text-anchor","middle")
  .attr("font-family",font).attr("font-size",31).attr("fill","#000");
xtit.append("tspan").text(xTitle.main);
xtit.append("tspan").attr("dy",-14).attr("font-size",21).text(xTitle.sup);
xtit.append("tspan").attr("dy",14).text(xTitle.end);

svg.append("text").attr("transform","translate(297,600) rotate(-90)")
  .attr("text-anchor","middle").attr("font-family",font).attr("font-size",31)
  .attr("fill","#000").text(yTitle);

// annotation arrows
function arrow(x1,y1,x2,y2,color,w,hl,hw){
  const a = Math.atan2(y2-y1,x2-x1), c = Math.cos(a), s = Math.sin(a);
  const bx = x2 - hl*c, by = y2 - hl*s;
  const nx = x2 - (hl*0.7)*c, ny = y2 - (hl*0.7)*s;
  svg.append("line").attr("x1",x1).attr("y1",y1).attr("x2",nx).attr("y2",ny)
    .attr("stroke",color).attr("stroke-width",w);
  const pts = [[x2,y2],[bx - hw*s, by + hw*c],[nx,ny],[bx + hw*s, by - hw*c]];
  svg.append("polygon").attr("points",pts.map(p=>p.join(",")).join(" ")).attr("fill",color);
}
arrow(242,472,681,474,"#de280a",6,25,13);
arrow(195,746,1098,599,"#165fd8",6,25,13);
arrow(1611,167,1119,285,"#4b7a2a",6,26,13);

// annotation labels
const nf = "'Comic Sans MS', 'Comic Neue', Lato, 'Noto Sans', sans-serif";
const notePos = [[11,485,214],[17,800,207],[1529,151,217]];
notes.forEach((t,i)=>{
  svg.append("text").attr("x",notePos[i][0]).attr("y",notePos[i][1])
    .attr("font-family",nf).attr("font-size",36).attr("fill","#ffff00")
    .attr("stroke","#ffff00").attr("stroke-width",0.8)
    .attr("textLength",notePos[i][2]).attr("lengthAdjust","spacingAndGlyphs").text(t);
});
</script></body></html>
